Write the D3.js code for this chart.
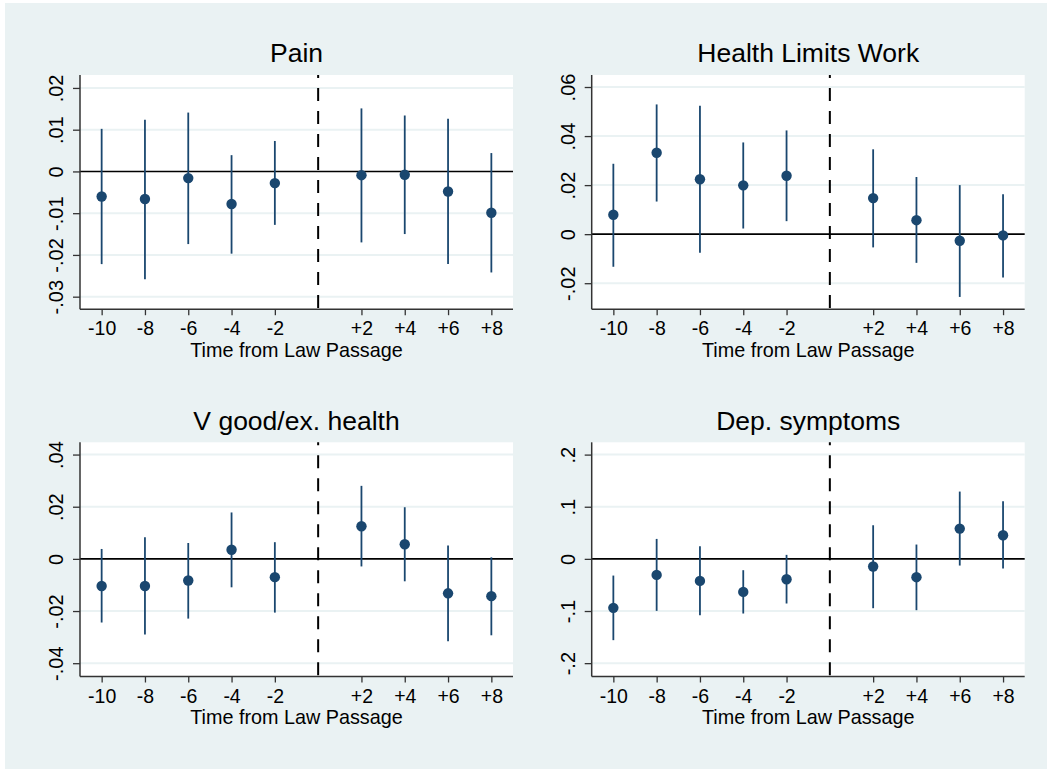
<!DOCTYPE html>
<html>
<head>
<meta charset="utf-8">
<script src="https://cdn.jsdelivr.net/npm/d3@7"></script>
<style>
  html, body { margin: 0; padding: 0; background: #ffffff; }
  svg { display: block; }
  text { font-family: "Liberation Sans", Arial, sans-serif; fill: #000; }
</style>
</head>
<body>
<svg id="chart" width="1047" height="769"></svg>
<script>
// Event-time positions (years from law passage) and their labels
const periods = [-10, -8, -6, -4, -2, 2, 4, 6, 8];
const periodLabels = ["-10", "-8", "-6", "-4", "-2", "+2", "+4", "+6", "+8"];
const lawPassage = 0;

const panelTitles = ["Pain", "Health Limits Work", "V good/ex. health", "Dep. symptoms"];

// Point estimates and 95% confidence bounds per outcome
const painEst   = [-0.0060, -0.0066, -0.0016, -0.0078, -0.0028, -0.0009, -0.0008, -0.0048, -0.0099];
const painLo    = [-0.0222, -0.0258, -0.0174, -0.0197, -0.0128, -0.0170, -0.0150, -0.0222, -0.0242];
const painHi    = [ 0.0102,  0.0124,  0.0141,  0.0039,  0.0073,  0.0151,  0.0134,  0.0126,  0.0044];

const workEst   = [ 0.0079,  0.0332,  0.0224,  0.0199,  0.0238,  0.0147,  0.0057, -0.0027, -0.0005];
const workLo    = [-0.0133,  0.0133, -0.0076,  0.0023,  0.0053, -0.0054, -0.0117, -0.0256, -0.0177];
const workHi    = [ 0.0287,  0.0529,  0.0524,  0.0374,  0.0423,  0.0346,  0.0233,  0.0200,  0.0163];

const healthEst = [-0.0104, -0.0104, -0.0083,  0.0035, -0.0070,  0.0125,  0.0056, -0.0132, -0.0143];
const healthLo  = [-0.0244, -0.0290, -0.0229, -0.0109, -0.0206, -0.0029, -0.0086, -0.0316, -0.0293];
const healthHi  = [ 0.0038,  0.0083,  0.0061,  0.0178,  0.0064,  0.0280,  0.0198,  0.0051,  0.0006];

const depEst    = [-0.0939, -0.0307, -0.0422, -0.0633, -0.0390, -0.0147, -0.0351,  0.0581,  0.0454];
const depLo     = [-0.1559, -0.0997, -0.1080, -0.1048, -0.0856, -0.0946, -0.0984, -0.0128, -0.0185];
const depHi     = [-0.0320,  0.0383,  0.0243, -0.0217,  0.0077,  0.0645,  0.0275,  0.1291,  0.1105];

// Y-axis ranges and ticks per outcome
const painDomain   = [-0.0330, 0.0231];
const workDomain   = [-0.0306, 0.0649];
const healthDomain = [-0.0451, 0.0447];
const depDomain    = [-0.2256, 0.2236];

const painTicks   = [-0.03, -0.02, -0.01, 0, 0.01, 0.02];
const painTickLabels = ["-.03", "-.02", "-.01", "0", ".01", ".02"];
const workTicks   = [-0.02, 0, 0.02, 0.04, 0.06];
const workTickLabels = ["-.02", "0", ".02", ".04", ".06"];
const healthTicks = [-0.04, -0.02, 0, 0.02, 0.04];
const healthTickLabels = ["-.04", "-.02", "0", ".02", ".04"];
const depTicks    = [-0.2, -0.1, 0, 0.1, 0.2];
const depTickLabels = ["-.2", "-.1", "0", ".1", ".2"];

const xTitle = "Time from Law Passage";

// Build panel specs from the arrays above
const panels = [
  { title: panelTitles[0], est: painEst, lo: painLo, hi: painHi, domain: painDomain, ticks: painTicks, tickLabels: painTickLabels },
  { title: panelTitles[1], est: workEst, lo: workLo, hi: workHi, domain: workDomain, ticks: workTicks, tickLabels: workTickLabels },
  { title: panelTitles[2], est: healthEst, lo: healthLo, hi: healthHi, domain: healthDomain, ticks: healthTicks, tickLabels: healthTickLabels },
  { title: panelTitles[3], est: depEst, lo: depLo, hi: depHi, domain: depDomain, ticks: depTicks, tickLabels: depTickLabels }
];

// Plot-region boxes for the 2x2 grid
const colLeft = [80, 591.7];
const plotW = 433;
const rowTop = [75, 442.3];
const plotH = 234.2;

const navy = "#1a476f";
const bg = "#eaf2f3";

const svg = d3.select("#chart");

// Graph background
svg.append("rect").attr("x", 5).attr("y", 3).attr("width", 1042).attr("height", 766).attr("fill", bg);

panels.forEach((p, i) => {
  const x0 = colLeft[i % 2];
  const y0 = rowTop[Math.floor(i / 2)];
  const g = svg.append("g").attr("transform", `translate(${x0},${y0})`);

  const x = d3.scaleLinear().domain([-11, 9]).range([0, plotW]);
  const y = d3.scaleLinear().domain(p.domain).range([plotH, 0]);

  // Plot region
  g.append("rect").attr("width", plotW).attr("height", plotH).attr("fill", "#ffffff");

  // Horizontal gridlines
  g.selectAll("line.grid").data(p.ticks.filter(t => t !== 0)).enter().append("line")
    .attr("class", "grid")
    .attr("x1", 0).attr("x2", plotW)
    .attr("y1", d => y(d)).attr("y2", d => y(d))
    .attr("stroke", bg).attr("stroke-width", 2);

  // Reference lines: zero effect and the law passage date
  g.append("line")
    .attr("x1", 0).attr("x2", plotW)
    .attr("y1", y(0)).attr("y2", y(0))
    .attr("stroke", "#000").attr("stroke-width", 1.6);
  g.append("line")
    .attr("x1", x(lawPassage)).attr("x2", x(lawPassage))
    .attr("y1", 0).attr("y2", plotH)
    .attr("stroke", "#000").attr("stroke-width", 2)
    .attr("stroke-dasharray", "13,10")
    .attr("stroke-dashoffset", 10);

  // Confidence intervals
  g.selectAll("line.ci").data(periods).enter().append("line")
    .attr("class", "ci")
    .attr("x1", d => x(d)).attr("x2", d => x(d))
    .attr("y1", (d, k) => y(p.lo[k])).attr("y2", (d, k) => y(p.hi[k]))
    .attr("stroke", navy).attr("stroke-width", 1.8);

  // Point estimates
  g.selectAll("circle.pt").data(periods).enter().append("circle")
    .attr("class", "pt")
    .attr("cx", d => x(d)).attr("cy", (d, k) => y(p.est[k]))
    .attr("r", 5.2).attr("fill", navy);

  // Y axis
  const yAxis = d3.axisLeft(y)
    .tickValues(p.ticks)
    .tickFormat((d, k) => p.tickLabels[k])
    .tickSize(7).tickSizeOuter(0).tickPadding(0);
  const ya = g.append("g").call(yAxis);
  ya.select(".domain").attr("stroke", "#333").attr("stroke-width", 1.5)
    .attr("d", `M0,0V${plotH}`);
  ya.selectAll(".tick line").attr("stroke", "#333").attr("stroke-width", 1.3);
  ya.selectAll(".tick text")
    .attr("x", null).attr("dy", null)
    .attr("transform", "translate(-17,0) rotate(-90)")
    .attr("text-anchor", "middle")
    .style("font-size", "20px")
    .style("font-family", "'Liberation Sans', Arial, sans-serif")
    .attr("fill", "#000");

  // X axis
  const xAxis = d3.axisBottom(x)
    .tickValues(periods)
    .tickFormat((d, k) => periodLabels[k])
    .tickSize(6).tickSizeOuter(0).tickPadding(0);
  const xa = g.append("g").attr("transform", `translate(0,${plotH})`).call(xAxis);
  xa.select(".domain").attr("stroke", "#333").attr("stroke-width", 1.5)
    .attr("d", `M0,0H${plotW}`);
  xa.selectAll(".tick line").attr("stroke", "#333").attr("stroke-width", 1.3);
  xa.selectAll(".tick text")
    .attr("y", 26).attr("dy", null)
    .style("font-size", "19.5px")
    .style("font-family", "'Liberation Sans', Arial, sans-serif")
    .attr("fill", "#000");

  // Axis title
  g.append("text")
    .attr("x", plotW / 2).attr("y", plotH + 47.8)
    .attr("text-anchor", "middle")
    .style("font-size", "19.8px")
    .text(xTitle);

  // Panel title
  g.append("text")
    .attr("x", plotW / 2).attr("y", -12.6)
    .attr("text-anchor", "middle")
    .style("font-size", "26.5px")
    .text(p.title);
});
</script>
</body>
</html>
